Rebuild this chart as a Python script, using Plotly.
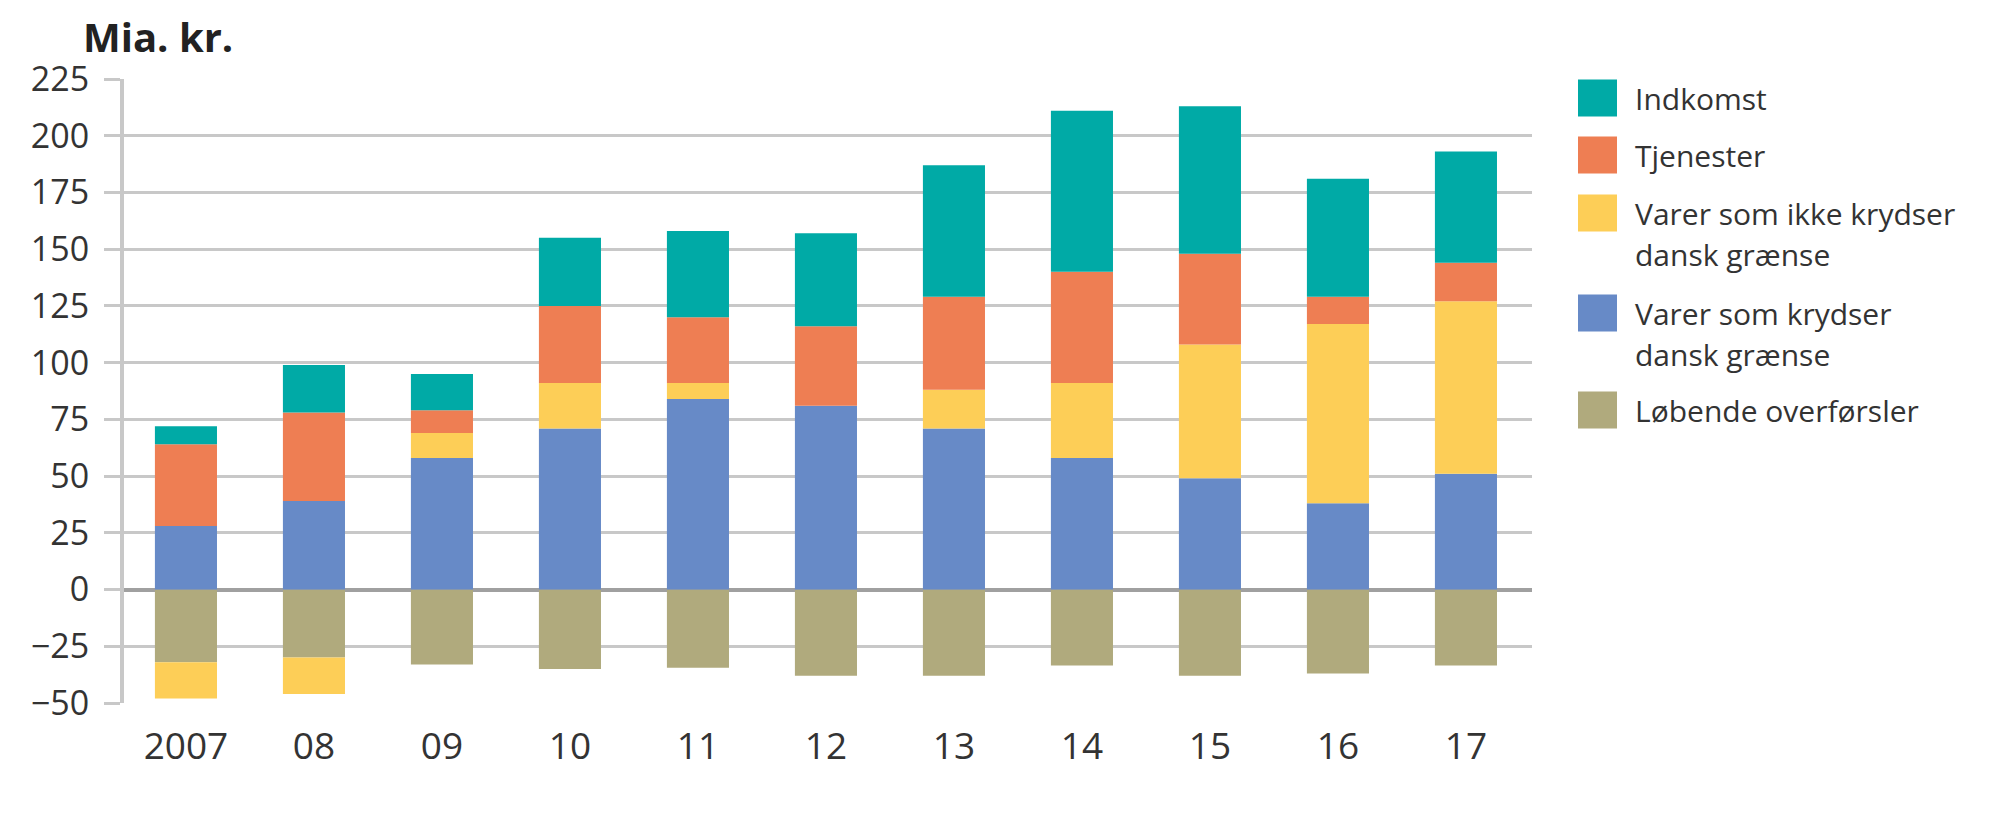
import plotly.graph_objects as go

years = ["2007", "08", "09", "10", "11", "12", "13", "14", "15", "16", "17"]

lobende = [-32, -30, -33, -35, -34.5, -38, -38, -33.5, -38, -37, -33.5]
varer_krydser = [28, 39, 58, 71, 84, 81, 71, 58, 49, 38, 51]
varer_ikke = [-16, -16, 11, 20, 7, 0, 17, 33, 59, 79, 76]
tjenester = [36, 39, 10, 34, 29, 35, 41, 49, 40, 12, 17]
indkomst = [8, 21, 16, 30, 38, 41, 58, 71, 65, 52, 49]

series = [
    ("Løbende overførsler", lobende, "#B0AA7D"),
    ("Varer som krydser dansk grænse", varer_krydser, "#678AC7"),
    ("Varer som ikke krydser dansk grænse", varer_ikke, "#FDCE57"),
    ("Tjenester", tjenester, "#EE7E53"),
    ("Indkomst", indkomst, "#00AAA6"),
]

FONT = "Open Sans"
W, H = 2000, 818
L, R, T, B = 124, 468, 79, 115

fig = go.Figure()
for name, vals, col in series:
    fig.add_trace(go.Bar(x=years, y=vals, name=name, marker=dict(color=col, line=dict(width=0)),
                         showlegend=False))

fig.update_layout(
    width=W, height=H,
    margin=dict(l=L, r=R, t=T, b=B),
    barmode="relative",
    bargap=0.515,
    plot_bgcolor="white", paper_bgcolor="white",
    font=dict(family=FONT, color="#333333"),
)
fig.update_xaxes(
    type="category", range=[-0.484, 10.516], showgrid=False, showline=False, ticks="",
    tickfont=dict(size=37, color="#333333"), ticklabelstandoff=18,
)
fig.update_yaxes(
    range=[-50, 225], dtick=25, showgrid=True, gridcolor="#C8C8C8", gridwidth=3,
    zeroline=True, zerolinecolor="#A0A0A0", zerolinewidth=3.5,
    showline=True, linecolor="#C8C8C8", linewidth=4,
    ticks="outside", ticklen=16, tickcolor="#C8C8C8", tickwidth=3,
    tickfont=dict(size=34, color="#333333"), ticklabelstandoff=8,
)

def px_x(px):
    return (px - L) / (W - L - R)

def px_y(py):
    return (H - B - py) / (H - T - B)

# title
fig.add_annotation(text="<b>Mia. kr.</b>", xref="paper", yref="paper",
                   x=px_x(81), y=px_y(36), xanchor="left", yanchor="middle", showarrow=False,
                   font=dict(size=40, color="#222222", family=FONT))

# custom legend
legend_items = [
    ("#00AAA6", ["Indkomst"], 98),
    ("#EE7E53", ["Tjenester"], 155),
    ("#FDCE57", ["Varer som ikke krydser", "dansk grænse"], 213),
    ("#678AC7", ["Varer som krydser", "dansk grænse"], 313),
    ("#B0AA7D", ["Løbende overførsler"], 410),
]
for col, lines, cy in legend_items:
    fig.add_shape(type="rect", xref="paper", yref="paper",
                  x0=px_x(1578), x1=px_x(1617), y0=px_y(cy + 18.5), y1=px_y(cy - 18.5),
                  fillcolor=col, line=dict(width=0))
    for i, ln in enumerate(lines):
        fig.add_annotation(text=ln, xref="paper", yref="paper", x=px_x(1633), y=px_y(cy + 41 * i),
                           xanchor="left", yanchor="middle", showarrow=False,
                           font=dict(size=30, color="#333333", family=FONT))

fig.write_html("out.html", config={"displayModeBar": False},
               post_script="document.body.style.margin='0';document.body.style.overflow='hidden';")
